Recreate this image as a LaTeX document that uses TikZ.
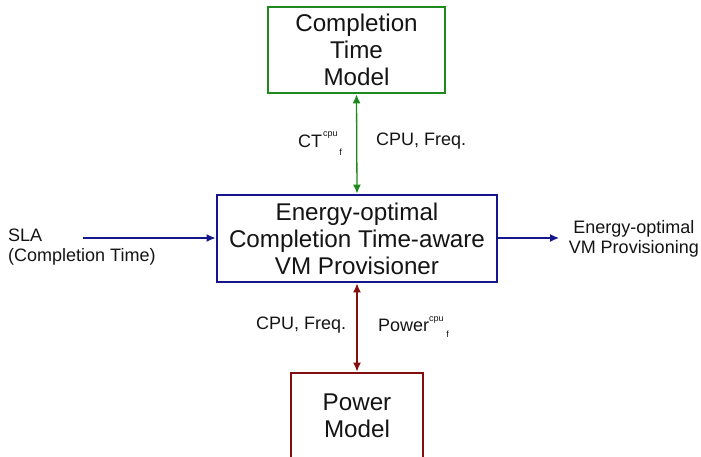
\documentclass[tikz,border=0pt]{standalone}
\usepackage{fontspec}
\setmainfont{Liberation Sans}
\usetikzlibrary{arrows.meta}
\definecolor{gr}{RGB}{30,138,30}
\definecolor{bl}{RGB}{22,22,140}
\definecolor{rd}{RGB}{130,14,14}
\definecolor{tx}{RGB}{20,20,20}
\tikzset{
  bigtxt/.style={font=\fontsize{24.2}{27}\selectfont, text=tx, align=center},
  smalltxt/.style={font=\fontsize{18}{19.5}\selectfont, text=tx, inner sep=0pt},
  tinytxt/.style={font=\fontsize{9}{9}\selectfont, text=tx, inner sep=0pt},
  box/.style={draw, line width=2.8pt, inner sep=0pt},
  arr/.style={line width=1.3pt, -{Latex[length=9pt,width=8pt]}},
  darr/.style={line width=1.3pt, {Latex[length=9pt,width=8pt]}-{Latex[length=9pt,width=8pt]}},
}
\begin{document}
\begin{tikzpicture}[x=1pt,y=-1pt]
\useasboundingbox (0,0) rectangle (701,457);
\clip (0,0) rectangle (701,457);
% boxes
\node[box, draw=gr, minimum width=177pt, minimum height=86pt, bigtxt] (ctm) at (356.5,50) {Completion\\Time\\Model};
\node[box, draw=bl, minimum width=280pt, minimum height=87pt, bigtxt] (prov) at (357,238.5) {Energy-optimal\\Completion Time-aware\\VM Provisioner};
\node[box, draw=rd, minimum width=132pt, minimum height=110pt] (pm) at (357,428) {};
\node[bigtxt] (pmt) at (357,416) {Power\\Model};
% side texts
\node[smalltxt, anchor=west, align=left] (sla) at (8,247) {SLA\\(Completion Time)};
\node[smalltxt, anchor=east, align=center] (out) at (699,239) {Energy-optimal\\VM Provisioning};
\coordinate (slaend) at (83,238);
\coordinate (outend) at (559,238);
% connectors
\draw[arr, bl] (slaend) -- (prov.west |- slaend);
\draw[arr, bl] (prov.east |- outend) -- (outend);
\draw[darr, gr] (ctm.south) -- (prov.north);
\draw[darr, rd] (prov.south) -- (pm.north);
% labels top
\node[smalltxt, anchor=west] (ct) at (298,141) {CT};
\node[tinytxt, anchor=west] (ctcpu) at (323,135) {cpu};
\node[tinytxt] (ctf) at (340.5,152) {f};
\node[smalltxt, anchor=west] (cpu1) at (376,141) {CPU, Freq.};
% labels bottom
\node[smalltxt, anchor=west] (cpu2) at (256,325) {CPU, Freq.};
\node[smalltxt, anchor=west] (pw) at (378,325) {Power};
\node[tinytxt, anchor=west] (pwcpu) at (429,320) {cpu};
\node[tinytxt] (pwf) at (447.5,334) {f};
\end{tikzpicture}
\end{document}
